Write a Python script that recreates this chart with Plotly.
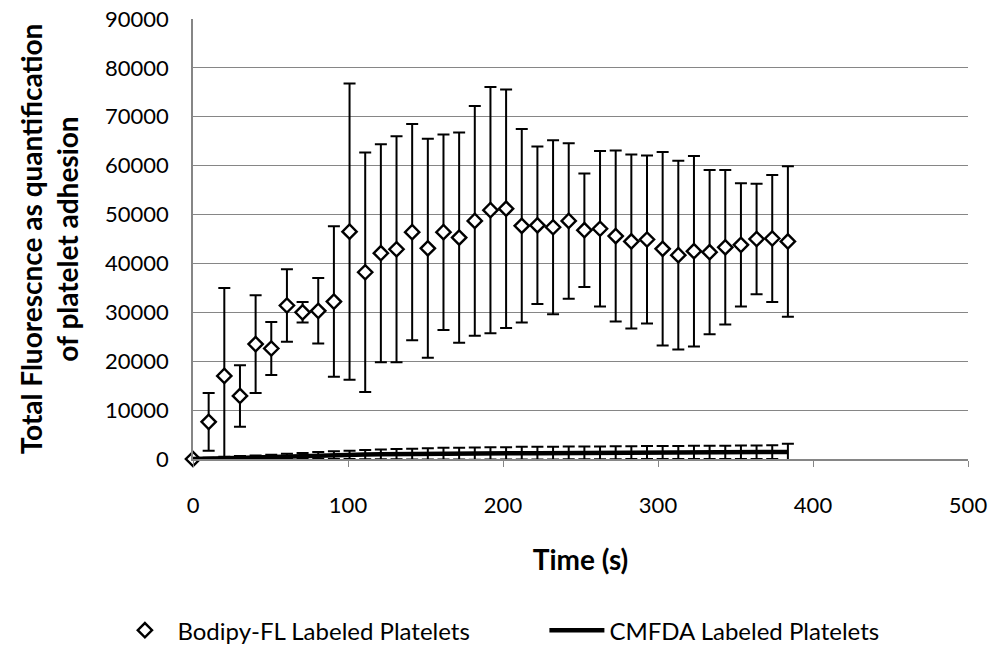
import plotly.graph_objects as go

time_s = [0, 10.1, 20.2, 30.3, 40.4, 50.5, 60.6, 70.7, 80.8, 90.9, 101.0, 111.1, 121.2, 131.3,
          141.4, 151.5, 161.6, 171.7, 181.8, 191.9, 202.0, 212.1, 222.2, 232.3, 242.4, 252.5,
          262.6, 272.7, 282.8, 292.9, 303.0, 313.1, 323.2, 333.3, 343.4, 353.5, 363.6, 373.7, 383.8]

bodipy = [0, 7600, 17000, 12900, 23500, 22600, 31400, 30000, 30300, 32200, 46500, 38200, 42100, 42900,
          46400, 43100, 46400, 45300, 48700, 50900, 51200, 47700, 47800, 47400, 48700, 46800,
          47100, 45600, 44500, 44900, 43000, 41700, 42500, 42300, 43300, 43800, 45000, 45100, 44500]
bodipy_err = [0, 5900, 18000, 6300, 10000, 5400, 7400, 2100, 6700, 15400, 30300, 24500, 22300, 23100,
              22100, 22400, 20000, 21500, 23500, 25200, 24400, 19800, 16100, 17800, 15900, 11600,
              15900, 17500, 17800, 17200, 19800, 19300, 19500, 16800, 15800, 12600, 11300, 13000, 15400]

cmfda = [0, 100, 200, 300, 350, 450, 550, 650, 750, 800, 850, 900, 950, 1000,
         1020, 1050, 1080, 1100, 1120, 1150, 1170, 1190, 1200, 1220, 1240, 1250,
         1270, 1280, 1300, 1310, 1320, 1330, 1340, 1350, 1360, 1380, 1390, 1400, 1450]
cmfda_err = [0, 150, 250, 300, 350, 400, 500, 600, 700, 800, 850, 950, 1000, 1050,
             1100, 1150, 1200, 1200, 1250, 1250, 1250, 1300, 1300, 1300, 1300, 1300,
             1300, 1320, 1320, 1330, 1340, 1350, 1350, 1360, 1370, 1380, 1390, 1400, 1650]

x_ticks = [0, 100, 200, 300, 400, 500]
y_ticks = [0, 10000, 20000, 30000, 40000, 50000, 60000, 70000, 80000, 90000]

FONT = "Lato"

fig = go.Figure()
fig.add_trace(go.Scatter(
    x=time_s, y=bodipy, mode="markers", name="Bodipy-FL Labeled Platelets",
    marker=dict(symbol="diamond", size=11, color="white", line=dict(color="black", width=2.4)),
    error_y=dict(type="data", array=bodipy_err, visible=True, color="black", thickness=2, width=6),
    cliponaxis=False,
))
fig.add_trace(go.Scatter(
    x=time_s, y=cmfda, mode="lines", name="CMFDA Labeled Platelets",
    line=dict(color="black", width=4.5),
    error_y=dict(type="data", array=cmfda_err, visible=True, color="black", thickness=2, width=6),
))

fig.update_layout(
    width=1003, height=655,
    margin=dict(l=193, r=35, t=19, b=196, autoexpand=False),
    paper_bgcolor="white", plot_bgcolor="white",
    font=dict(family=FONT, size=22, color="black"),
    showlegend=True,
    legend=dict(orientation="h", x=-0.104, xanchor="left", y=-0.39, yanchor="middle",
                font=dict(family=FONT, size=24), itemwidth=55, entrywidth=362,
                traceorder="normal"),
    xaxis=dict(range=[0, 500], tickvals=x_ticks, tickformat="d", showgrid=False, zeroline=False,
               showline=True, linecolor="#868686", linewidth=1.5,
               ticks="outside", ticklen=6, tickcolor="#868686", automargin=False,
               ticklabelstandoff=20, tickfont=dict(size=22), ticklabeloverflow="allow",
               title=dict(text="<b>Time (s)</b>", font=dict(size=28), standoff=33)),
    yaxis=dict(range=[0, 90000], tickvals=y_ticks, tickformat="d", showgrid=True,
               gridcolor="#868686", gridwidth=1.3, automargin=False, ticklabeloverflow="allow",
               zeroline=False, showline=True, linecolor="#868686", linewidth=1.5,
               ticks="", ticklabelstandoff=18, tickfont=dict(size=22),
               title=dict(text="<b>Total Fluorescnce as quantification<br>of platelet adhesion</b>",
                          font=dict(size=28), standoff=18)),
)

fig.write_html("out.html", config={"displayModeBar": False},
               post_script="document.body.style.margin='0';")
